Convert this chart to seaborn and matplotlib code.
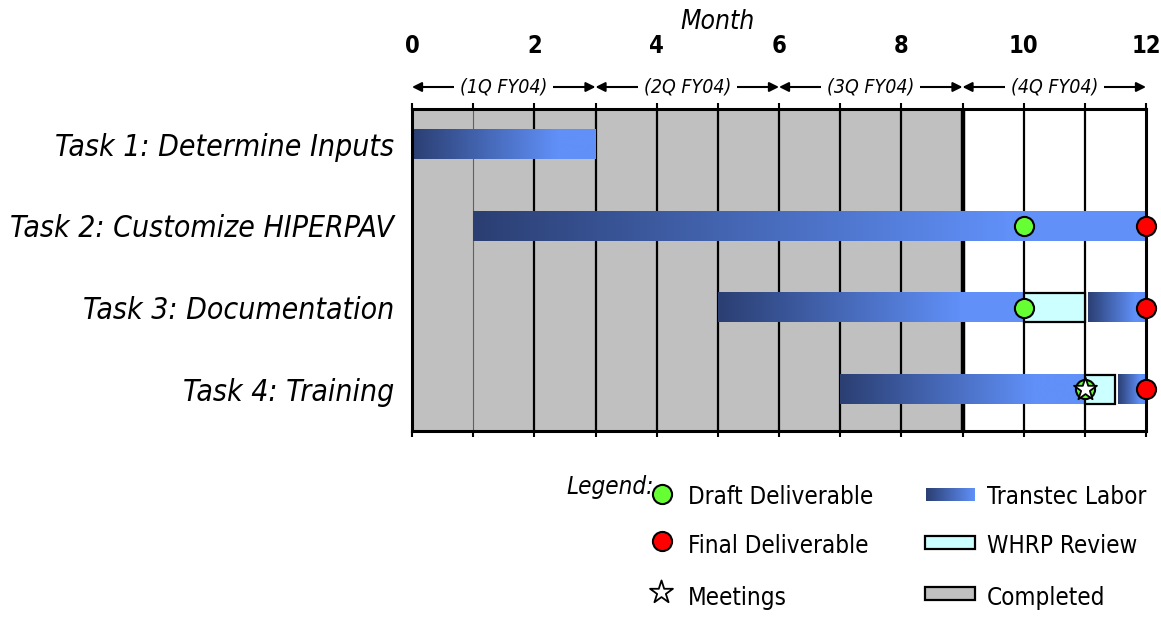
import numpy as np
import pandas as pd
import matplotlib
matplotlib.use("Agg")
import matplotlib.pyplot as plt
from matplotlib.patches import Rectangle
from matplotlib.colors import LinearSegmentedColormap
import seaborn as sns

# ---------------- data ----------------
tasks = ["Task 1: Determine Inputs", "Task 2: Customize HIPERPAV",
         "Task 3: Documentation", "Task 4: Training"]
month_ticks = [0, 2, 4, 6, 8, 10, 12]
quarters = ["(1Q FY04)", "(2Q FY04)", "(3Q FY04)", "(4Q FY04)"]
quarter_start = [0, 3, 6, 9]
quarter_end = [3, 6, 9, 12]

labor_task = [0, 1, 2, 2, 3, 3]
labor_start = [0, 1, 5, 11.05, 7, 11.55]
labor_end = [3, 12, 10, 12, 11, 12]

review_task = [2, 3]
review_start = [10, 11]
review_end = [11, 11.5]

draft_task = [1, 2, 3]
draft_month = [10, 10, 11]
final_task = [1, 2, 3]
final_month = [12, 12, 12]
meeting_task = [3]
meeting_month = [11]

completed_until = 9

# ---------------- style ----------------
sns.set_theme(style="white")
fam = ["DejaVu Sans"]
plt.rcParams["font.family"] = fam
plt.rcParams["font.stretch"] = "condensed"
plt.rcParams["text.color"] = "black"
plt.rcParams["xtick.color"] = "black"
plt.rcParams["ytick.color"] = "black"

DARK = "#2B3F73"
LIGHT = "#6090F8"
GREY = "#C0C0C0"
CYAN = "#CCFFFF"
cmap = LinearSegmentedColormap.from_list("labor", [DARK, LIGHT])

W, H = 1161, 618
fig = plt.figure(figsize=(W / 100, H / 100), dpi=100)
ax = fig.add_axes([412 / W, 1 - 431 / H, (1146 - 412) / W, (431 - 109) / H])

bar_h = 0.36

ax.axvspan(0, completed_until, color=GREY, zorder=0, lw=0)

for m in range(1, 12):
    if m == 1:
        ax.axvline(m, color="#606060", lw=0.8, zorder=1)
    else:
        ax.axvline(m, color="black", lw=1.6, zorder=1)
ax.axvline(completed_until, color="black", lw=3.2, zorder=1)

grad = np.concatenate([np.linspace(0, 1, 80), np.ones(20)])[None, :]
for t, s, e in zip(labor_task, labor_start, labor_end):
    ax.imshow(grad, cmap=cmap, vmin=0, vmax=1, aspect="auto",
              extent=(s, e, t + bar_h / 2, t - bar_h / 2), zorder=2,
              interpolation="bilinear")

for t, s, e in zip(review_task, review_start, review_end):
    ax.add_patch(Rectangle((s, t - bar_h / 2), e - s, bar_h, facecolor=CYAN,
                           edgecolor="black", lw=1.6, zorder=3))

draft_df = pd.DataFrame({"month": draft_month, "task": draft_task})
final_df = pd.DataFrame({"month": final_month, "task": final_task})
meet_df = pd.DataFrame({"month": meeting_month, "task": meeting_task})
sns.scatterplot(data=draft_df, x="month", y="task", ax=ax, s=190, color="#66FF33",
                edgecolor="black", linewidth=1.5, zorder=5, clip_on=False, legend=False)
sns.scatterplot(data=final_df, x="month", y="task", ax=ax, s=190, color="#FF0000",
                edgecolor="black", linewidth=1.5, zorder=5, clip_on=False, legend=False)
sns.scatterplot(data=meet_df, x="month", y="task", ax=ax, s=300, marker="*", color="white",
                edgecolor="black", linewidth=1.3, zorder=6, clip_on=False, legend=False)

ax.set_xlim(0, 12)
ax.set_ylim(3.51, -0.43)

ax.xaxis.tick_top()
ax.set_xticks(month_ticks)
ax.set_xticklabels([str(m) for m in month_ticks], fontsize=17, fontweight="bold")
ax.set_xticks(range(0, 13), minor=True)
ax.tick_params(axis="x", which="both", top=True, bottom=True, length=4, width=1.5,
               direction="out", pad=33, color="black")
ax.tick_params(axis="x", which="major", labeltop=True, labelbottom=False)
ax.set_yticks(range(len(tasks)))
ax.set_yticklabels(tasks, fontsize=21.6, fontstyle="italic")
ax.tick_params(axis="y", length=0, pad=13)
ax.set_xlabel("")
ax.set_ylabel("")
for sp in ax.spines.values():
    sp.set_visible(True)
    sp.set_color("black")
    sp.set_linewidth(2.2)

xt = ax.get_xaxis_transform()
ax.text(5, 1 + (109 - 22) / 322, "Month", transform=xt, ha="center",
        va="center", fontsize=19, fontstyle="italic")

yq = 1 + (109 - 87) / 322
for q, s, e in zip(quarters, quarter_start, quarter_end):
    ax.annotate("", xy=(s, yq), xytext=(e, yq), xycoords=xt, textcoords=xt,
                arrowprops=dict(arrowstyle="<|-|>", color="black", lw=1.5,
                                mutation_scale=14, shrinkA=0, shrinkB=0),
                annotation_clip=False)
    ax.text((s + e) / 2, yq, q, transform=xt, ha="center", va="center",
            fontsize=14, fontstyle="italic",
            bbox=dict(facecolor="white", edgecolor="none", pad=4))

lax = fig.add_axes([0, 0, 1, 1], facecolor="none")
lax.set_xlim(0, W)
lax.set_ylim(H, 0)
lax.axis("off")

lfs = 17.4
lax.text(610, 487, "Legend:", ha="center", va="center", fontsize=lfs, fontstyle="italic")
lax.scatter([662], [494], s=190, color="#66FF33", edgecolor="black", lw=1.5)
lax.text(688, 497, "Draft Deliverable", va="center", fontsize=lfs)
lax.scatter([662], [541], s=190, color="#FF0000", edgecolor="black", lw=1.5)
lax.text(688, 546, "Final Deliverable", va="center", fontsize=lfs)
lax.scatter([661], [592], s=300, marker="*", color="white", edgecolor="black", lw=1.3)
lax.text(688, 598, "Meetings", va="center", fontsize=lfs)

lax.imshow(np.linspace(0, 1, 60)[None, :], cmap=cmap, aspect="auto",
           extent=(926, 975, 501, 488), interpolation="bilinear")
lax.set_xlim(0, W)
lax.set_ylim(H, 0)
lax.text(987, 497, "Transtec Labor", va="center", fontsize=lfs)
lax.add_patch(Rectangle((925, 536), 50, 13, facecolor=CYAN, edgecolor="black", lw=1.6))
lax.text(987, 546, "WHRP Review", va="center", fontsize=lfs)
lax.add_patch(Rectangle((925, 587), 50, 13, facecolor=GREY, edgecolor="black", lw=1.6))
lax.text(987, 598, "Completed", va="center", fontsize=lfs)

fig.savefig("out.png", dpi=100)
